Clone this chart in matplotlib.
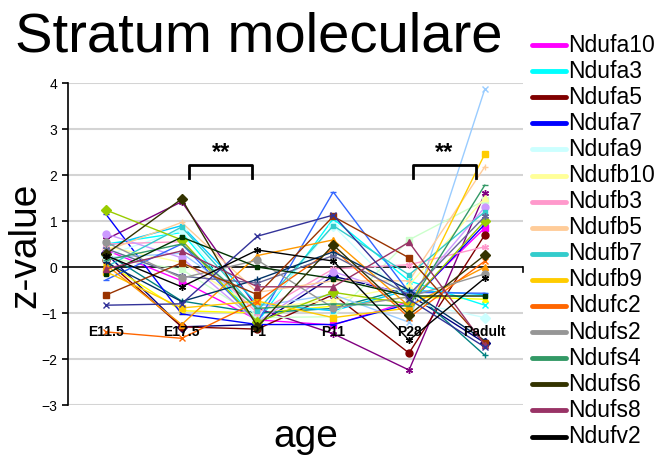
import matplotlib
matplotlib.use('Agg')
import matplotlib.pyplot as plt
from matplotlib.lines import Line2D

plt.rcParams['font.family'] = ['Liberation Sans', 'DejaVu Sans']

# categories on the x axis
ages = ['E11.5', 'E17.5', 'P1', 'P11', 'P28', 'Padult']

# genes in the order of the series
genes = ['Ndufa1', 'Ndufa10', 'Ndufa2', 'Ndufa3', 'Ndufa4', 'Ndufa5', 'Ndufa6', 'Ndufa7',
         'Ndufa8', 'Ndufa9', 'Ndufab1', 'Ndufb10', 'Ndufb2', 'Ndufb3', 'Ndufb4', 'Ndufb5',
         'Ndufb6', 'Ndufb7', 'Ndufb8', 'Ndufb9', 'Ndufc1', 'Ndufc2', 'Ndufs1', 'Ndufs2',
         'Ndufs3', 'Ndufs4', 'Ndufs5', 'Ndufs6', 'Ndufs7', 'Ndufs8', 'Ndufv1', 'Ndufv2']

# z-values per gene (E11.5, E17.5, P1, P11, P28, Padult)
zvals = [
    [0.30, -1.30, -1.25, -0.20, -0.60, -1.65],   # Ndufa1
    [0.37, -0.30, -1.15, -1.26, -0.75, 0.85],    # Ndufa10
    [0.10, -0.95, -1.00, -0.85, -0.65, -0.70],   # Ndufa2
    [0.50, 0.75, -1.20, 1.05, -0.30, -0.83],     # Ndufa3
    [0.60, 1.42, -0.90, -1.45, -2.24, 1.60],     # Ndufa4
    [0.15, -1.30, -1.35, -0.60, -1.87, 0.70],    # Ndufa5
    [0.30, -0.74, -1.00, -0.90, -0.45, -1.92],   # Ndufa6
    [1.15, -1.02, -1.25, -1.25, -0.80, 0.93],    # Ndufa7
    [0.45, 0.90, -0.80, -0.95, -0.50, -0.60],    # Ndufa8
    [0.25, 0.80, -1.10, 0.90, -0.75, -1.10],     # Ndufa9
    [0.20, -0.05, -1.10, -1.08, 0.59, 1.45],     # Ndufab1
    [0.45, 0.10, -0.90, -0.72, -0.40, 1.50],     # Ndufb10
    [0.20, 0.30, -0.85, -0.60, -1.20, 3.87],     # Ndufb2
    [0.50, 0.55, -1.00, -0.04, 0.05, 0.44],      # Ndufb3
    [0.72, 0.20, -1.20, -0.10, -0.65, 1.30],     # Ndufb4
    [0.35, 0.97, -0.55, -0.30, -0.30, 2.18],     # Ndufb5
    [-0.28, 0.50, -1.20, 1.63, -0.55, -0.57],    # Ndufb6
    [0.00, 0.87, -0.95, 0.90, -0.17, 1.20],      # Ndufb7
    [1.24, 0.59, -1.20, -0.55, -0.80, 1.00],     # Ndufb8
    [-0.10, -0.89, -0.74, -1.10, -0.89, 2.46],   # Ndufb9
    [0.05, -1.25, 0.25, 0.59, -0.85, 0.00],      # Ndufc1
    [-1.41, -1.55, -0.75, 0.40, -1.10, 0.13],    # Ndufc2
    [0.40, -0.20, -0.35, 0.25, -0.60, 1.10],     # Ndufs1
    [0.54, -0.24, 0.15, -0.89, -0.65, -0.15],    # Ndufs2
    [0.10, -0.75, -0.27, 0.33, -0.50, -1.60],    # Ndufs3
    [0.15, 0.50, -0.90, -0.80, -0.85, 1.78],     # Ndufs4
    [-0.15, 0.65, 0.00, -0.25, -0.63, -0.63],    # Ndufs5
    [0.28, 1.48, -1.30, 0.48, -1.04, 0.26],      # Ndufs6
    [-0.61, 0.09, -0.60, 1.10, 0.20, -1.65],     # Ndufs7
    [-0.04, 0.35, -0.43, -0.43, 0.54, -1.70],    # Ndufs8
    [-0.83, -0.80, 0.67, 1.13, -0.70, -1.74],    # Ndufv1
    [0.25, -0.43, 0.37, 0.13, -1.59, -0.24],     # Ndufv2
]

# excel-like series colours
colors = ['#000080', '#FF00FF', '#FFFF00', '#00FFFF', '#800080', '#800000', '#008080', '#0000FF',
          '#00CCFF', '#CCFFFF', '#CCFFCC', '#FFFF99', '#99CCFF', '#FF99CC', '#CC99FF', '#FFCC99',
          '#3366FF', '#33CCCC', '#99CC00', '#FFCC00', '#FF9900', '#FF6600', '#666699', '#969696',
          '#003366', '#339966', '#003300', '#333300', '#993300', '#993366', '#333399', '#000000']

markers = ['D', 's', '^', 'x', (6, 2, 0), 'o', '+', '_', 's']

# significance brackets: (x start, x end)
brackets = [(1.1, 1.93), (4.05, 4.88)]

fig = plt.figure(figsize=(6.6, 4.59), dpi=100)
ax = fig.add_axes([0.103, 0.1176, 0.689, 0.7015])

x = list(range(len(ages)))
for i, (g, vals) in enumerate(zip(genes, zvals)):
    m = markers[i % len(markers)]
    ms = 3.5 if i % len(markers) == 8 else 5
    ax.plot(x, vals, color=colors[i], linewidth=1.0, marker=m, markersize=ms,
            markeredgewidth=1.0, zorder=3)

ax.set_xlim(-0.5, 5.5)
ax.set_ylim(-3, 4)
ax.set_yticks(range(-3, 5))
for yv in range(-3, 5):
    if yv != 0:
        ax.axhline(yv, color='#D4D4D4', linewidth=1.5, zorder=1)
ax.axhline(0, color='black', linewidth=1.2, zorder=2)
ax.plot([5.5, 5.5], [0, -0.1], color='black', linewidth=1.2, clip_on=False)

for s in ['top', 'right', 'bottom']:
    ax.spines[s].set_visible(False)
ax.spines['left'].set_linewidth(1.2)
ax.set_xticks([])
ax.tick_params(axis='y', direction='out', length=4, width=1.2, labelsize=10)

# category labels sit inside the plot
for xi, lab in zip(x, ages):
    ax.text(xi, -1.41, lab, ha='center', va='center', fontsize=10, fontweight='bold', zorder=4)

# brackets with stars
for x0, x1 in brackets:
    ax.plot([x0, x0, x1, x1], [1.93, 2.22, 2.22, 1.93], color='black', linewidth=2, zorder=5)
    ax.text((x0 + x1) / 2, 2.5, '**', ha='center', va='center', fontsize=17,
            fontweight='bold', zorder=5)

fig.text(0.022, 0.887, 'Stratum moleculare', fontsize=40.5, ha='left', va='baseline')
fig.text(0.038, 0.466, 'z-value', fontsize=28, rotation=90, ha='center', va='center')
fig.text(0.463, 0.048, 'age', fontsize=28, ha='center', va='center')

# legend: every other gene is listed
y_top = 1 - 45 / 459
step = 26.1 / 459
for k, i in enumerate(range(1, len(genes), 2)):
    yy = y_top - k * step
    fig.add_artist(Line2D([532 / 660, 566 / 660], [yy, yy], color=colors[i], linewidth=3.5,
                          solid_capstyle='round'))
    fig.text(568 / 660, yy, genes[i], fontsize=16.5, ha='left', va='center')

fig.savefig('out.png', dpi=100)
